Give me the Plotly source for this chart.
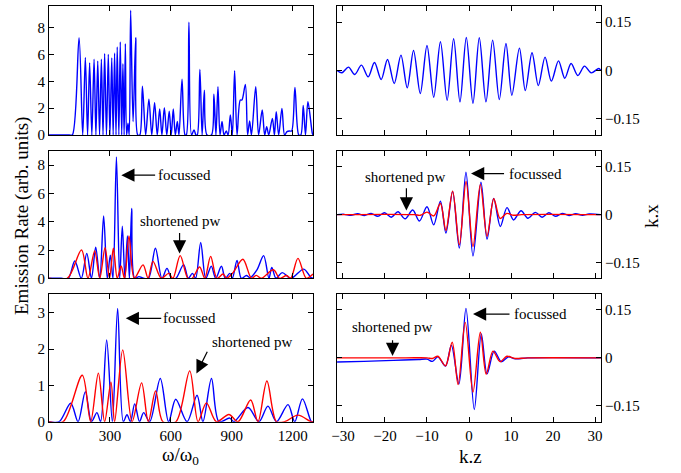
import plotly.graph_objects as go

# ---------------- data ----------------
# Row 1, left: emission spectrum (blue)
w1 = [0, 100, 115, 148, 166, 179, 190, 200, 211, 222, 231, 240, 249, 258, 266, 274, 283, 292, 300, 309,
      316, 323, 330, 336, 344, 351, 358, 364, 370, 376, 382, 389, 395, 402, 414, 427, 437, 447, 460, 476,
      492, 506, 520, 533, 545, 556, 568, 580, 592, 602, 612, 622, 632, 640, 655, 670, 676, 689, 702, 714,
      724, 730, 743, 754, 765, 778, 800, 812, 822, 832, 842, 852, 862, 873, 882, 893, 903, 914, 926, 942,
      950, 967, 978, 988, 997, 1018, 1032, 1050, 1062, 1072, 1082, 1100, 1110, 1119, 1131, 1147, 1160, 1172,
      1185, 1195, 1211, 1230, 1240, 1252, 1263, 1275, 1297, 1300]
s1 = [0, 0, 0, 7.25, 0, 5.77, 0, 5.37, 0, 5.64, 0, 5.5, 0, 5.64, 0, 6.06, 0, 6.0, 0, 5.74,
      0, 6.1, 0, 6.56, 0, 6.93, 0, 5.3, 0, 6.8, 0, 0.87, 0, 9.28, 1.0, 7.25, 0, 0, 3.64, 0,
      2.67, 0, 2.4, 0, 1.93, 0, 2.03, 0, 1.78, 0, 1.93, 0, 1.0, 0, 4.16, 0, 0, 8.4, 0, 0.37,
      0, 0, 4.88, 0, 3.34, 0, 0, 3.04, 0, 3.59, 0, 1.0, 0, 0.3, 0, 1.49, 0, 4.78, 0, 2.6,
      2.6, 3.76, 0, 1.04, 0, 3.59, 0, 1.86, 0, 0.62, 0, 1.24, 0, 1.73, 0, 1.98, 0, 0.25,
      0.3, 0.3, 3.54, 0, 0, 2.2, 0, 2.47, 0.1, 0]

# Row 2, left: focussed (blue) and shortened pw (red)
w2b = [0, 60, 95, 127, 159, 186, 209, 230, 250, 269, 287, 302, 315, 332, 348, 361, 374, 386, 396, 407,
       422, 443, 465, 490, 524, 556, 581, 603, 625, 663, 686, 706, 722, 747, 772, 799, 821, 849, 868, 890,
       903, 926, 947, 972, 990, 1024, 1057, 1083, 1097, 1118, 1148, 1192, 1254, 1290, 1300]
s2b = [0, 0, 0, 1.22, 0, 1.76, 0, 2.19, 0, 4.4, 0, 1.64, 0, 8.58, 0, 3.69, 0, 3.0, 0, 4.94,
       0, 0.12, 0, 0, 2.12, 0, 0.7, 0, 0, 0.97, 0, 0.35, 0, 2.53, 0, 0.85, 0, 0.85, 0, 0.35,
       0, 1.26, 0, 0.2, 0.05, 0.6, 1.6, 0, 0.77, 0, 0.4, 0, 0.65, 0.05, 0]
w2r = [0, 90, 160, 192, 225, 250, 276, 298, 317, 336, 355, 372, 394, 420, 463, 488, 512, 553, 589, 610,
       646, 684, 705, 742, 767, 796, 827, 857, 875, 906, 955, 997, 1021, 1045, 1105, 1136, 1170, 1190, 1226,
       1267, 1300]
s2r = [0, 0, 2.0, 0, 1.93, 0, 2.16, 0, 2.12, 0, 0.87, 0, 2.99, 0, 0.95, 0, 1.2, 0, 0.35, 0,
       1.6, 0, 0, 0.8, 0, 1.55, 0, 0.3, 0, 0.4, 1.35, 0, 0.21, 0, 0.6, 0, 0.2, 0, 1.41,
       0, 0.3]

# Row 3, left
w3b = [0, 50, 107, 143, 179, 209, 236, 254, 284, 312, 338, 366, 384, 401, 422, 446, 466, 496, 548, 589,
       624, 680, 729, 758, 800, 837, 890, 910, 980, 1034, 1078, 1120, 1177, 1210, 1248, 1292, 1300]
s3b = [0, 0, 0.51, 0, 0.83, 0, 0.25, 0, 2.25, 0, 3.12, 0, 0.19, 0, 0.49, 0, 0.25, 0, 1.19, 0,
       0.62, 0, 0.73, 0, 1.19, 0, 0.1, 0, 0.39, 0, 0.43, 0, 0.47, 0, 0.63, 0, 0]
w3r = [0, 70, 164, 205, 243, 274, 305, 323, 363, 409, 456, 489, 525, 561, 625, 693, 734, 775, 824, 886,
       931, 993, 1029, 1073, 1120, 1160, 1226, 1290, 1300]
s3r = [0, 0, 1.28, 0, 1.34, 0, 1.09, 0, 1.98, 0, 1.07, 0, 0.85, 0, 0, 1.40, 0, 0.52, 0, 0.2,
       0, 0.6, 0, 1.12, 0, 0, 0.18, 0, 0]

# Row 1, right: trajectory k.x vs k.z
z1 = [-31.4, -30.25, -28.7, -27.2, -25.6, -24.0, -22.5, -20.9, -19.4, -17.8, -16.2, -14.7, -13.2, -11.6,
      -10.0, -8.4, -6.8, -5.2, -3.66, -2.15, -0.64, 0.94, 2.45, 4.04, 5.63, 7.21, 8.8, 10.2, 12.0, 13.4,
      15.0, 16.5, 18.1, 19.6, 21.3, 22.8, 24.3, 25.9, 27.5, 29.1, 30.9, 31.4]
x1 = [0, -0.007, 0.0104, -0.0124, 0.0166, -0.0197, 0.0248, -0.028, 0.0342, -0.0404, 0.0476, -0.0538,
      0.0621, -0.0714, 0.0776, -0.0828, 0.089, -0.0921, 0.0983, -0.0973, 0.1025, -0.1014, 0.1014, -0.0973,
      0.0942, -0.0901, 0.0839, -0.0766, 0.0694, -0.0621, 0.0549, -0.0466, 0.0414, -0.0331, 0.03, -0.0238,
      0.0217, -0.0155, 0.0135, -0.0073, 0.0062, 0]

# Row 2, right
z2b = [-31.4, -29.7, -28.1, -26.5, -24.9, -23.3, -21.7, -20.1, -18.5, -16.9, -15.2, -13.4, -11.8, -10.0,
       -8.4, -6.8, -5.5, -3.9, -2.3, -0.72, 0.95, 2.85, 4.3, 5.87, 7.45, 9.04, 10.6, 12.4, 14.0, 15.8,
       17.4, 19.0, 20.6, 22.2, 23.8, 25.4, 27.0, 28.6, 31.4]
x2b = [0, 0.001, -0.002, 0.003, -0.003, 0.004, -0.005, 0.006, -0.008, 0.009, -0.013, 0.0145, -0.02, 0.025,
       -0.032, 0.042, -0.058, 0.073, -0.105, 0.133, -0.13, 0.102, -0.077, 0.051, -0.037, 0.022, -0.0166,
       0.0124, -0.0114, 0.0072, -0.008, 0.006, -0.005, 0.004, -0.003, 0.003, -0.002, 0.002, 0]
z2r = [-31.4, -20.0, -13.0, -11.6, -10.0, -8.4, -6.8, -5.5, -3.9, -2.3, -0.7, 0.95, 2.7, 4.3, 5.9, 7.4,
       9.0, 10.6, 12.5, 31.4]
x2r = [0, 0.001, 0, -0.002, 0.008, -0.004, 0.035, -0.05, 0.074, -0.095, 0.104, -0.1, 0.095, -0.068,
       0.05, -0.012, 0.004, -0.002, 0, 0]

# Row 3, right
z3b = [-31.4, -25.0, -18.0, -12.0, -10.0, -8.7, -7.4, -5.6, -4.2, -2.4, -0.72, 1.26, 2.93, 4.3, 6.0,
       7.7, 9.4, 11.0, 14.0, 31.4]
x3b = [-0.013, -0.011, -0.008, -0.005, -0.004, -0.011, 0.003, -0.026, 0.039, -0.082, 0.155, -0.162,
       0.075, -0.05, 0.021, -0.012, 0.003, -0.003, 0, 0]
z3r = [-31.4, -15.0, -10.0, -8.7, -7.4, -5.6, -4.0, -2.6, -0.9, 0.95, 2.7, 4.1, 5.7, 7.4, 9.0, 11.0,
       14.0, 31.4]
x3r = [0, 0, 0, -0.002, 0.005, -0.025, 0.049, -0.084, 0.111, -0.107, 0.08, -0.051, 0.021, -0.012,
       0.005, -0.002, 0, 0]

w_ticks = [0, 300, 600, 900, 1200]
z_ticks = [-30, -20, -10, 0, 10, 20, 30]
kx_ticks = [-0.15, 0, 0.15]
kx_labels = ["\u22120.15", "0", "0.15"]

BLUE = "#0000FF"
RED = "#FF0000"
FONT = "Liberation Serif"

fig = go.Figure()

def line(x, y, color, xa, ya):
    fig.add_trace(go.Scatter(x=x, y=y, mode="lines", xaxis=xa, yaxis=ya,
                             line=dict(color=color, width=1.4, shape="spline", smoothing=0.9),
                             showlegend=False, hoverinfo="skip"))

line(w1, s1, BLUE, "x", "y")
line(z1, x1, BLUE, "x2", "y2")
line(w2b, s2b, BLUE, "x3", "y3")
line(w2r, s2r, RED, "x3", "y3")
line(z2b, x2b, BLUE, "x4", "y4")
line(z2r, x2r, RED, "x4", "y4")
line(w3b, s3b, BLUE, "x5", "y5")
line(w3r, s3r, RED, "x5", "y5")
line(z3b, x3b, BLUE, "x6", "y6")
line(z3r, x3r, RED, "x6", "y6")

W, H = 681, 473
left_dom = [49 / W, 313 / W]
right_dom = [337 / W, 601 / W]
rows = [[1 - 135 / H, 1 - 6 / H], [1 - 278.3 / H, 1 - 151 / H], [1 - 421.7 / H, 1 - 294 / H]]

common = dict(showline=True, linecolor="black", linewidth=1, mirror="ticks", ticks="inside",
              ticklen=5, tickwidth=1, tickcolor="black", showgrid=False, zeroline=False,
              automargin=False,
              tickfont=dict(family=FONT, size=15, color="black"))

lay = {}
yranges_left = [[0, 9.6], [0, 9.0], [0, 3.52]]
yticks_left = [[0, 2, 4, 6, 8], [0, 2, 4, 6, 8], [0, 1, 2, 3]]
for r in range(3):
    li = 2 * r + 1
    ri = 2 * r + 2
    lx = "xaxis" if li == 1 else f"xaxis{li}"
    ly = "yaxis" if li == 1 else f"yaxis{li}"
    rx = f"xaxis{ri}"
    ry = f"yaxis{ri}"
    lay[lx] = dict(common, domain=left_dom, range=[0, 1300], tickvals=w_ticks,
                   showticklabels=(r == 2), anchor=ly.replace("axis", ""))
    lay[ly] = dict(common, domain=rows[r], range=yranges_left[r], tickvals=yticks_left[r],
                   anchor=lx.replace("axis", ""))
    lay[rx] = dict(common, domain=right_dom, range=[-31.42, 31.42], tickvals=z_ticks,
                   showticklabels=(r == 2), anchor=f"y{ri}")
    lay[ry] = dict(common, domain=rows[r], range=[-0.2, 0.2], tickvals=kx_ticks, ticktext=kx_labels,
                   side="right", anchor=f"x{ri}")

ann = []
def text(t, x, y, xr, yr, size=15):
    ann.append(dict(text=t, x=x, y=y, xref=xr, yref=yr, showarrow=False,
                    xanchor="center", yanchor="middle",
                    font=dict(family=FONT, size=size, color="black")))

def arrow(x, y, ax, ay, xr, yr):
    ann.append(dict(text="", x=x, y=y, ax=ax, ay=ay, xref=xr, yref=yr, axref=xr, ayref=yr,
                    showarrow=True, arrowhead=2, arrowsize=2.2, arrowwidth=1.2, arrowcolor="black",
                    standoff=0))

# row 2 left
text("focussed", 668, 7.29, "x3", "y3")
arrow(356, 7.29, 530, 7.29, "x3", "y3")
text("shortened pw", 648, 4.04, "x3", "y3")
arrow(643, 1.76, 643, 3.3, "x3", "y3")
# row 3 left
text("focussed", 693, 2.85, "x5", "y5")
arrow(378, 2.85, 560, 2.85, "x5", "y5")
text("shortened pw", 1000, 2.19, "x5", "y5")
arrow(726, 1.33, 783, 1.97, "x5", "y5")
# row 2 right
text("focussed", 15.8, 0.129, "x4", "y4")
arrow(0.48, 0.129, 8.7, 0.129, "x4", "y4")
text("shortened pw", -15.2, 0.117, "x4", "y4")
arrow(-14.9, 0.013, -14.9, 0.088, "x4", "y4")
# row 3 right
text("focussed", 16.9, 0.137, "x6", "y6")
arrow(0.95, 0.137, 10.0, 0.137, "x6", "y6")
text("shortened pw", -18.1, 0.096, "x6", "y6")
arrow(-18.2, 0.006, -18.2, 0.06, "x6", "y6")

# axis titles
def title(t, px, py, angle=0):
    ann.append(dict(text=t, x=px / W, y=1 - py / H, xref="paper", yref="paper",
                    xanchor="center", yanchor="middle", showarrow=False, textangle=angle,
                    font=dict(family=FONT, size=19, color="black")))

title("Emission Rate (arb. units)", 22, 216, -90)
title("k.x", 651, 216, -90)
title("\u03c9/\u03c9<sub>0</sub>", 180, 456)
title("k.z", 470, 456)

fig.update_layout(width=W, height=H, autosize=False, margin=dict(l=0, r=0, t=0, b=0),
                  paper_bgcolor="white", plot_bgcolor="white", annotations=ann,
                  font=dict(family=FONT, color="black"), **lay)

fig.write_html("out.html", config={"displayModeBar": False},
               post_script="document.body.style.margin='0px';")
